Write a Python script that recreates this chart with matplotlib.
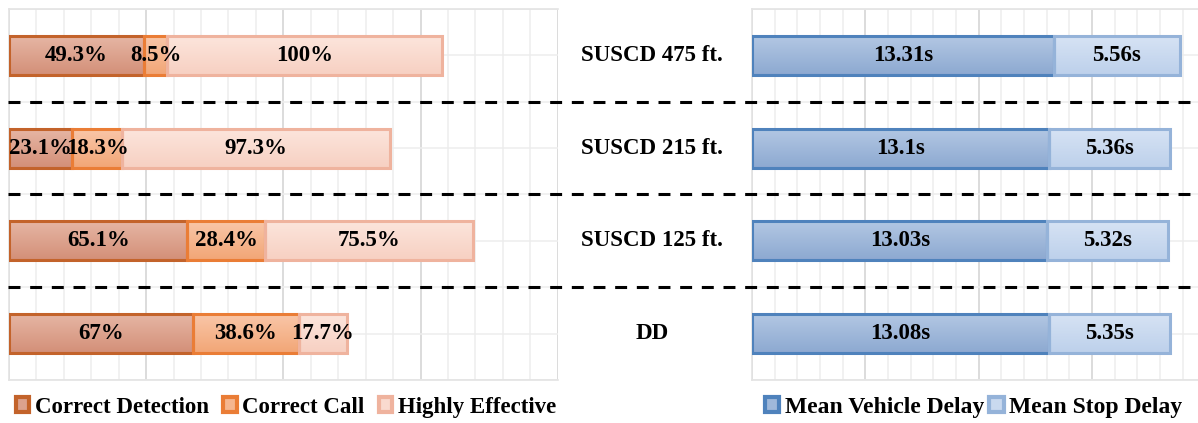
import matplotlib
matplotlib.use("Agg")
import matplotlib.pyplot as plt
import matplotlib.transforms as mtransforms
import numpy as np
from matplotlib.colors import LinearSegmentedColormap
from matplotlib.patches import Patch
from matplotlib.ticker import MultipleLocator

# detector configurations, top to bottom
configs = ["SUSCD 475 ft.", "SUSCD 215 ft.", "SUSCD 125 ft.", "DD"]

# detection performance (%)
correct_detection = [49.3, 23.1, 65.1, 67]
correct_call = [8.5, 18.3, 28.4, 38.6]
highly_effective = [100, 97.3, 75.5, 17.7]

# delays (s)
vehicle_delay = [13.31, 13.1, 13.03, 13.08]
stop_delay = [5.56, 5.36, 5.32, 5.35]

plt.rcParams["font.family"] = ["Liberation Serif", "DejaVu Serif"]
plt.rcParams["font.weight"] = "bold"
plt.rcParams["lines.scale_dashes"] = False

FS = 16.5
BAR_H = 0.42
EDGE_W = 2.2

# name, values, gradient top, gradient bottom, edge colour
left_series = [
    ("Correct Detection", correct_detection, "#E6B6A4", "#D38F78", "#C3632B"),
    ("Correct Call", correct_call, "#F9C6A8", "#F2A676", "#EA7D36"),
    ("Highly Effective", highly_effective, "#FCE5DC", "#F7D0C2", "#EFB39E"),
]
right_series = [
    ("Mean Vehicle Delay", vehicle_delay, "#B2C7E3", "#8DA9D1", "#4F82BC"),
    ("Mean Stop Delay", stop_delay, "#D6E3F4", "#BDD0EB", "#95B3D9"),
]

fig = plt.figure(figsize=(11.98, 4.23), dpi=100)
top = 1 - 9 / 423
bottom = 1 - 380 / 423
ax1 = fig.add_axes([8.8 / 1198, bottom, 549 / 1198, top - bottom])
ax2 = fig.add_axes([752 / 1198, bottom, 446 / 1198, top - bottom])

ypos = list(range(len(configs)))
grad = np.linspace(0, 1, 64).reshape(-1, 1)


def style_axes(ax, major, minor):
    ax.xaxis.set_major_locator(MultipleLocator(major))
    ax.xaxis.set_minor_locator(MultipleLocator(minor))
    ax.yaxis.set_major_locator(MultipleLocator(0.5))
    ax.grid(axis="x", which="major", color="#D9D9D9", lw=1.3)
    ax.grid(axis="x", which="minor", color="#EDEDED", lw=1.1)
    ax.grid(axis="y", which="major", color="#EDEDED", lw=1.1)
    ax.set_axisbelow(True)
    ax.tick_params(which="both", length=0, labelbottom=False, labelleft=False)
    for side in ["top", "bottom", "left", "right"]:
        ax.spines[side].set_color("#E3E3E3")
        ax.spines[side].set_linewidth(1.2)
    ax.spines["right"].set_visible(False)


def stacked(ax, series, fmt, xmax):
    left = [0] * len(configs)
    handles = []
    for name, vals, c_top, c_bot, edge in series:
        bars = ax.barh(ypos, vals, left=left, height=BAR_H, color="none",
                       edgecolor=edge, linewidth=EDGE_W, label=name, zorder=3)
        cmap = LinearSegmentedColormap.from_list(name, [c_top, c_bot])
        # vertical shading inside each bar
        for rect in bars:
            x0, y0 = rect.get_x(), rect.get_y()
            img = ax.imshow(grad, cmap=cmap, aspect="auto", zorder=2.5,
                            extent=[x0, x0 + rect.get_width(), y0 + rect.get_height(), y0])
            img.set_clip_path(rect)
        ax.bar_label(bars, labels=[fmt(v) for v in vals], label_type="center",
                     fontsize=FS, fontweight="bold", color="black", zorder=4)
        left = [a + b for a, b in zip(left, vals)]
        handles.append(Patch(facecolor=cmap(0.5), edgecolor=edge, linewidth=3, label=name))
    ax.set_xlim(0, xmax)
    ax.set_ylim(len(configs) - 0.5, -0.5)
    return handles


style_axes(ax1, 50, 10)
style_axes(ax2, 5, 1)

h1 = stacked(ax1, left_series, lambda v: f"{v:g}%", 200)
h2 = stacked(ax2, right_series, lambda v: f"{v:g}s", 446 / 22.67)

# separators between configurations across the whole figure
sep = mtransforms.blended_transform_factory(fig.transFigure, ax1.transData)
for y in [0.5, 1.5, 2.5]:
    fig.add_artist(plt.Line2D([8 / 1198, 1.0], [y, y], transform=sep,
                              color="black", lw=2.2, linestyle=(0, (8.6, 7.0))))

# configuration names between the two panels
for y, name in zip(ypos, configs):
    fig.text(652 / 1198, y, name, transform=sep, ha="center", va="center",
             fontsize=FS, fontweight="bold")

leg_kw = dict(loc="center", frameon=False, handlelength=0.6, handleheight=0.6,
              handletextpad=0.25, borderaxespad=0)
fig.legend(handles=h1, bbox_to_anchor=(286 / 1198, 1 - 407 / 423), ncol=3,
           fontsize=FS, columnspacing=0.6, **leg_kw)
fig.legend(handles=h2, bbox_to_anchor=(974 / 1198, 1 - 407 / 423), ncol=2,
           fontsize=17, columnspacing=0.2, **leg_kw)

fig.savefig("out.png", dpi=100)
